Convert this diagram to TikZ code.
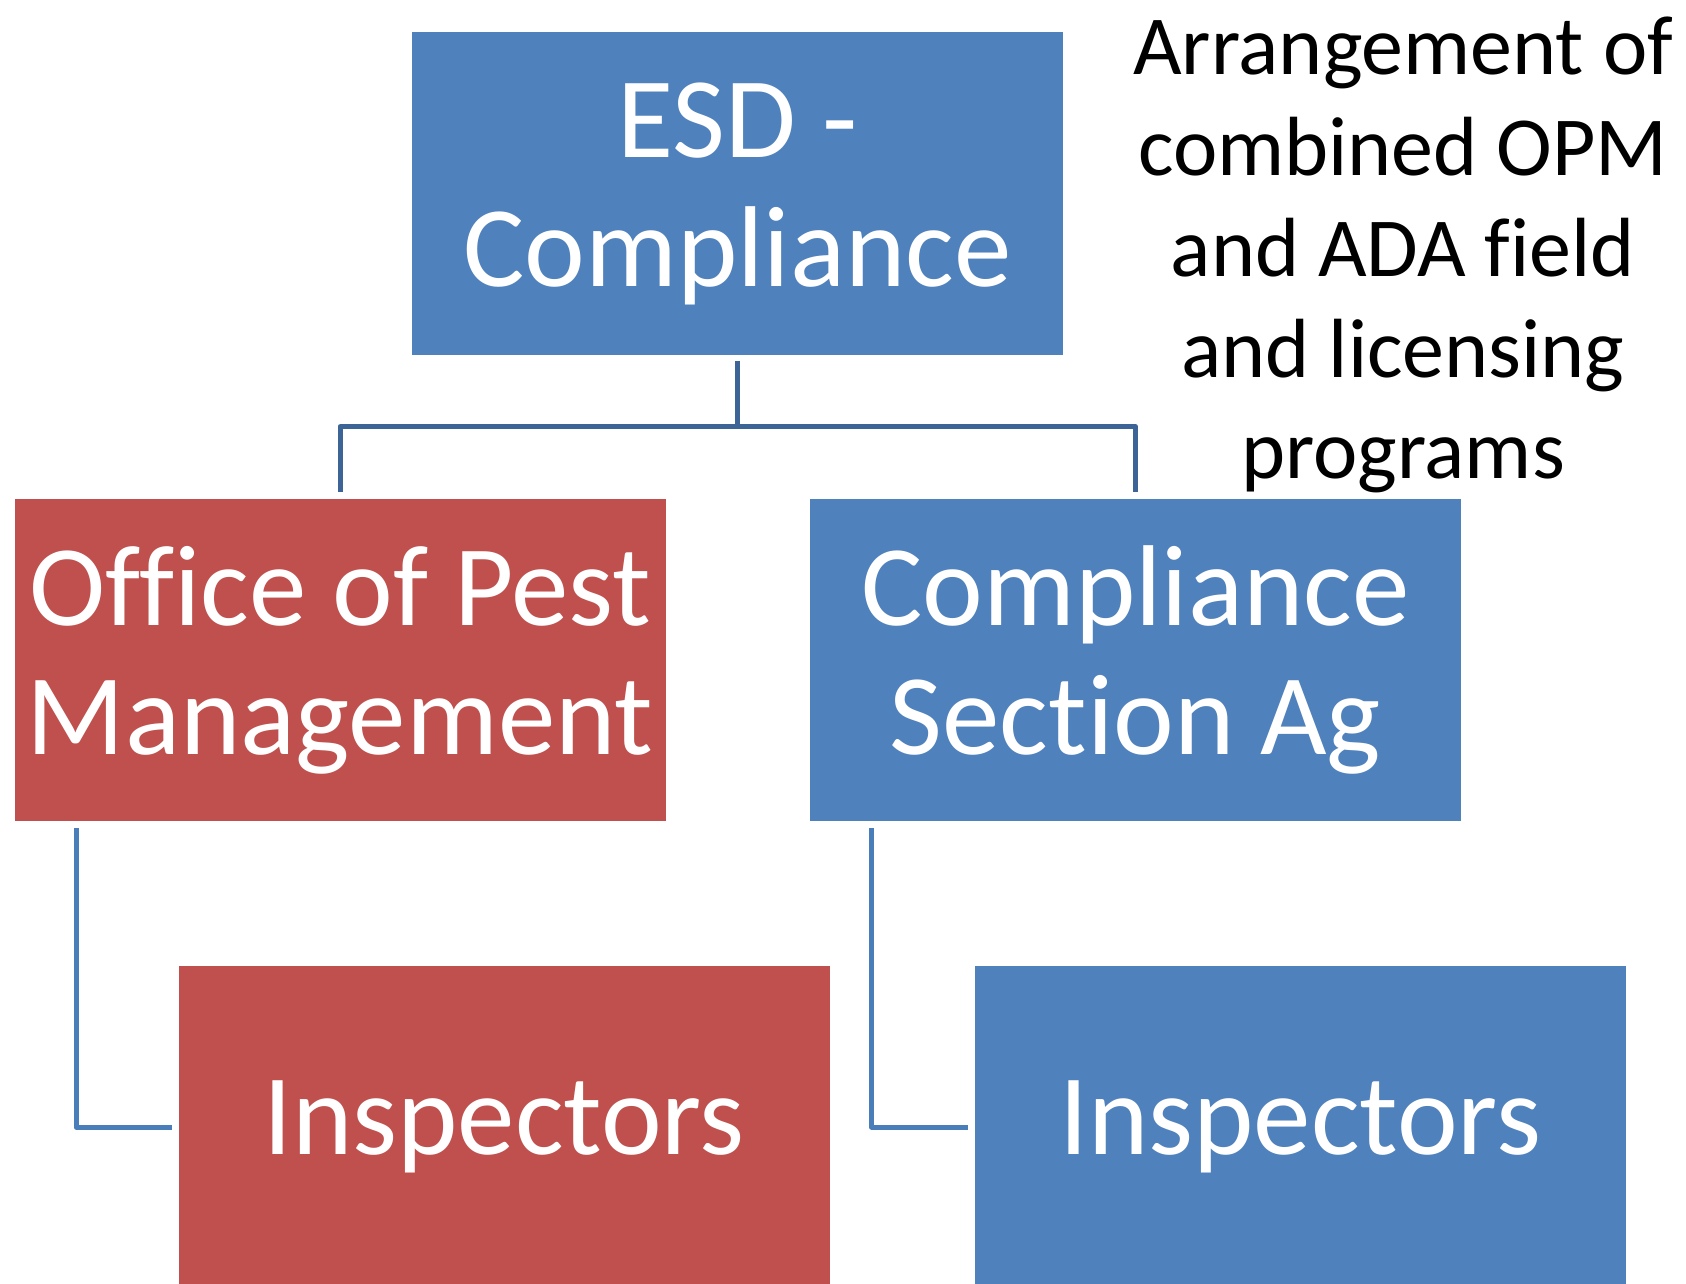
\documentclass[tikz,border=0pt]{standalone}
\usepackage{fontspec}
\setmainfont{Carlito}[Ligatures=CommonOff]
\definecolor{boxblue}{HTML}{4F81BD}
\definecolor{boxred}{HTML}{C0504D}
\definecolor{busblue}{HTML}{3C6496}
\definecolor{elbowblue}{HTML}{4A7EBB}
\tikzset{
  orgbox/.style={rectangle, minimum width=651pt, minimum height=322pt, inner sep=0pt,
    text=white, align=center, font=\fontsize{115}{129}\selectfont},
  bluebox/.style={orgbox, fill=boxblue},
  redbox/.style={orgbox, fill=boxred},
  orgline/.style={line width=5pt, line join=round},
}
\begin{document}
\begin{tikzpicture}[x=1pt, y=1pt]
        \useasboundingbox (0,0) rectangle (1686,-1284);

        \node[bluebox] (esd) at (737.5,-193.5) {ESD -\\Compliance};
        \node[redbox] (opm) at (340,-660) {Office of Pest\\Management};
        \node[bluebox] (cag) at (1135.5,-660) {Compliance\\Section Ag};
        \node[redbox] (insl) at (504,-1127) {Inspectors};
        \node[bluebox] (insr) at (1300,-1127) {Inspectors};

        \node[align=center, inner sep=0pt, font=\fontsize{84}{101}\selectfont] (note) at (1403,-255)
          {Arrangement of\\combined OPM\\and ADA field\\and licensing\\programs};

        \draw[orgline, busblue] ([yshift=-6pt]esd.south) -- ++(0,-66) coordinate (bus);
        \draw[orgline, busblue] ([yshift=7pt]opm.north) |- (bus) -| ([yshift=7pt]cag.north);
        \draw[orgline, elbowblue] ([xshift=-264pt, yshift=-7pt]opm.south) |- ([xshift=-6pt]insl.west);
        \draw[orgline, elbowblue] ([xshift=-264pt, yshift=-7pt]cag.south) |- ([xshift=-6pt]insr.west);

    \end{tikzpicture}
\end{document}
